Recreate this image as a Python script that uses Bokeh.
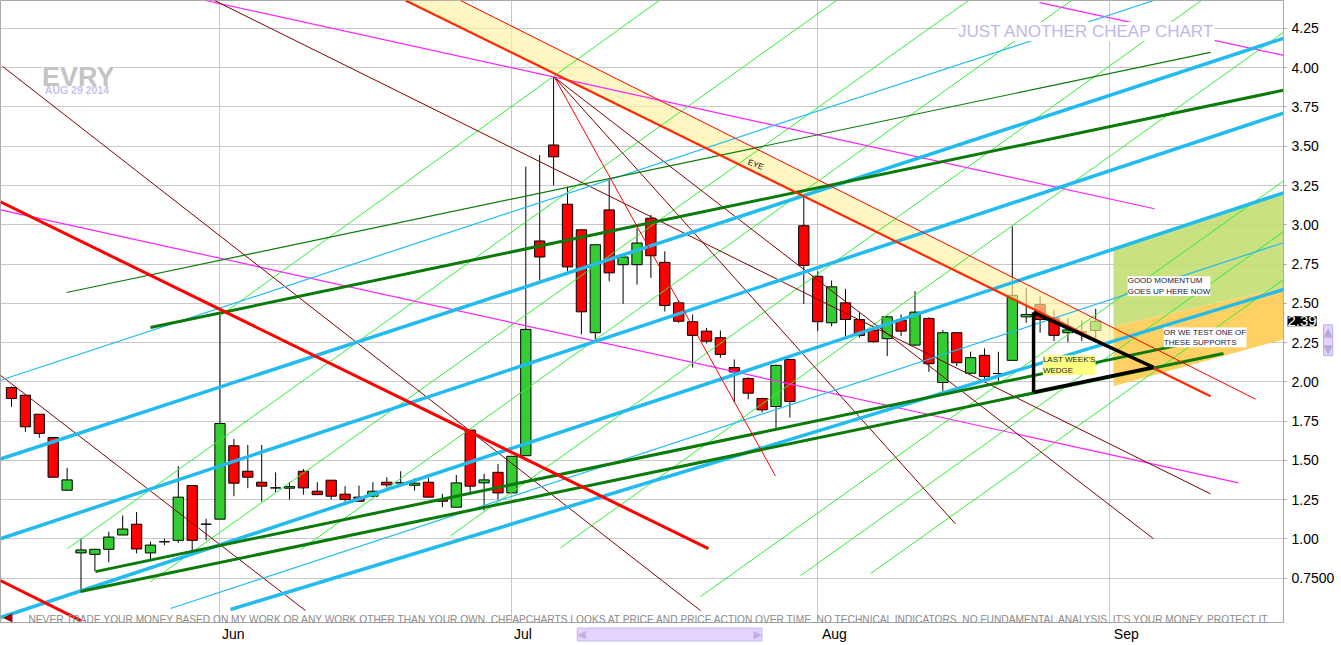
from bokeh.plotting import figure
from bokeh.models import Range1d, FixedTicker, Label, ColumnDataSource, NumeralTickFormatter
from bokeh.embed import file_html
from bokeh.resources import INLINE

# ---------------- data: EVRY daily candles (trading-day index 0 = 9 May 2014 ... 78 = 29 Aug 2014)
opens = [1.964,1.915,1.794,1.646,1.310,0.911,0.902,0.934,1.025,1.094,
         0.911,0.982,0.991,1.340,1.094,1.126,1.593,1.431,1.361,1.325,
         1.323,1.431,1.304,1.374,1.285,1.266,1.272,1.361,1.357,1.342,
         1.361,1.251,1.202,1.693,1.357,1.424,1.293,1.530,2.897,3.508,
         3.131,2.968,2.313,3.095,2.746,2.746,3.042,2.761,2.503,2.383,
         2.323,2.281,2.091,2.021,1.894,1.843,2.143,2.994,2.672,2.376,
         2.503,2.397,2.329,2.275,2.393,2.234,2.404,1.996,2.313,2.055,
         2.169,2.053,2.137,2.414,2.492,2.408,2.313,2.317,2.327]
highs = [1.970,1.915,1.794,1.646,1.452,1.001,0.934,1.046,1.149,1.171,
         0.982,1.001,1.463,1.340,1.128,2.429,1.636,1.598,1.598,1.424,
         1.361,1.445,1.361,1.374,1.336,1.339,1.361,1.393,1.431,1.386,
         1.388,1.287,1.407,1.693,1.414,1.477,1.526,3.370,3.444,3.939,
         3.243,2.968,2.873,3.286,2.795,2.979,3.063,2.831,2.520,2.429,
         2.344,2.327,2.143,2.030,1.900,2.110,2.143,3.190,2.704,2.645,
         2.592,2.440,2.340,2.420,2.429,2.577,2.410,2.330,2.313,2.192,
         2.213,2.192,2.989,2.598,2.545,2.460,2.408,2.390,2.465]
lows = [1.841,1.682,1.644,1.393,1.310,0.673,0.794,0.851,1.025,0.908,
        0.864,0.960,0.974,0.917,0.991,1.126,1.272,1.323,1.238,1.297,
        1.251,1.282,1.282,1.251,1.238,1.240,1.266,1.329,1.346,1.308,
        1.266,1.202,1.202,1.298,1.181,1.251,1.293,1.530,2.645,3.250,
        2.704,2.302,2.270,2.640,2.497,2.619,2.662,2.448,2.376,2.091,
        2.245,2.154,1.869,1.889,1.805,1.699,1.773,2.497,2.323,2.355,
        2.291,2.280,2.250,2.164,2.291,2.228,2.063,1.942,2.100,2.050,
        2.006,2.006,2.137,2.376,2.313,2.260,2.253,2.260,2.266]
closes = [1.894,1.714,1.672,1.393,1.376,0.930,0.934,1.012,1.063,0.936,
          0.961,0.982,1.266,0.991,1.094,1.735,1.355,1.393,1.336,1.325,
          1.333,1.325,1.282,1.272,1.251,1.240,1.304,1.344,1.357,1.355,
          1.266,1.240,1.357,1.336,1.376,1.293,1.526,2.334,2.795,3.433,
          2.732,2.446,2.873,2.694,2.795,2.884,2.803,2.486,2.386,2.296,
          2.259,2.175,2.063,1.928,1.822,2.105,1.875,2.742,2.383,2.605,
          2.397,2.296,2.256,2.414,2.323,2.444,2.116,2.313,2.122,2.154,
          2.034,2.053,2.551,2.429,2.397,2.296,2.331,2.317,2.386]

price_ticks = [0.75, 1.00, 1.25, 1.50, 1.75, 2.00, 2.25, 2.50, 2.75, 3.00, 3.25, 3.50, 3.75, 4.00, 4.25]
month_labels = ["Jun", "Jul", "Aug", "Sep"]
month_start_idx = [15, 36, 58, 79]          # first trading day of each month (grid lines)
month_label_pos = [15.95, 36.8, 59.2, 80.2]  # label centres (labels start at the month line)

# ---------------- hand-drawn trend lines (trading-day index, price)
thick_red = dict(x0=[-0.79, -0.80], y0=[3.146, 0.735], x1=[50.14, 5.00], y1=[0.938, 0.480])
band_lower = dict(x0=[28.35], y0=[4.428], x1=[86.26], y1=[1.909])
thin_red = dict(x0=[39.06, 32.30], y0=[3.939, 4.428], x1=[54.96, 89.50], y1=[1.401, 1.890])
magenta = dict(x0=[13.96, 73.96, -0.79], y0=[4.428, 4.415, 3.095],
               x1=[82.23, 91.51, 88.27], y1=[3.102, 4.079, 1.357])
maroon = dict(x0=[-0.65, -0.79, 14.60, 39.06, 39.06], y0=[4.009, 2.042, 4.428, 3.939, 3.939],
              x1=[49.57, 21.15, 86.26, 82.16, 67.91], y1=[0.544, 0.544, 1.287, 1.001, 1.096])
cyan_thick = dict(x0=[-0.79, -0.79, -0.79, 15.76], y0=[1.509, 1.001, 0.500, 0.551],
                  x1=[91.51, 91.51, 91.51, 91.51], y1=[4.187, 3.711, 3.203, 2.588])
cyan_thin = dict(x0=[-0.79, 11.44], y0=[2.010, 0.557], x1=[82.16, 91.51], y1=[4.428, 2.886])
dkgreen_thick = dict(x0=[10.00, 4.96, 6.04], y0=[2.346, 0.665, 0.792],
                     x1=[91.51, 87.19, 84.60], y1=[3.857, 2.181, 2.245])
dkgreen_thin = dict(x0=[3.96], y0=[2.569], x1=[86.26], y1=[4.098])
lime = dict(x0=[15.04, 4.03, 10.00, 20.79, 31.58, 39.50, 49.57, 56.76, 61.80],
            y0=[2.423, 0.938, 0.728, 0.931, 1.020, 0.944, 0.633, 0.766, 0.779],
            x1=[46.60, 59.35, 68.85, 76.26, 85.60, 91.51, 91.51, 91.51, 91.51],
            y1=[4.428, 4.428, 4.428, 4.428, 4.428, 4.225, 3.279, 2.956, 2.651])
wedge = dict(x0=[73.53, 73.53, 73.53], y0=[2.442, 2.442, 1.934],
             x1=[73.53, 82.16, 82.16], y1=[1.934, 2.093, 2.093])
eye_band_x = [28.35, 79.28, 79.28, 32.30]
eye_band_y = [4.428, 2.213, 2.344, 4.428]
momentum_zone_x = [79.28, 91.51, 91.51, 79.28]
momentum_zone_y = [2.841, 3.203, 2.600, 2.353]
support_zone_x = [79.28, 91.51, 91.51, 79.28]
support_zone_y = [2.353, 2.600, 2.270, 1.972]

# ---------------- figure
X0, X1 = -0.791, 91.51
Y0, Y1 = 0.468, 4.428
p = figure(frame_width=1283, frame_height=622, x_range=Range1d(X0, X1), y_range=Range1d(Y0, Y1),
           output_backend="svg", toolbar_location=None, y_axis_location="right",
           min_border_left=0, min_border_top=0, min_border_right=0, min_border_bottom=0,
           background_fill_color="white", border_fill_color="white")
p.outline_line_color = "#A8A8A8"

p.yaxis.ticker = FixedTicker(ticks=price_ticks)
p.yaxis.formatter = NumeralTickFormatter(format="0.00")
p.yaxis.major_label_overrides = {0.75: "0.7500"}
p.yaxis.major_label_text_font = "Liberation Sans"
p.yaxis.major_label_text_font_size = "14px"
p.yaxis.major_label_text_color = "black"
p.yaxis.axis_line_color = "#A8A8A8"
p.yaxis.major_tick_line_color = "#A8A8A8"
p.yaxis.major_tick_out = 3
p.yaxis.major_tick_in = 0
p.yaxis.minor_tick_line_color = None
p.yaxis.major_label_standoff = 5

p.xaxis.ticker = FixedTicker(ticks=month_label_pos)
p.xaxis.major_label_overrides = {k: v for k, v in zip(month_label_pos, month_labels)}
p.xaxis.major_label_text_font = "Liberation Sans"
p.xaxis.major_label_text_font_size = "14px"
p.xaxis.major_label_text_color = "black"
p.xaxis.axis_line_color = "#A8A8A8"
p.xaxis.major_tick_line_color = None
p.xaxis.minor_tick_line_color = None
p.xaxis.major_tick_out = 0
p.xaxis.major_label_standoff = 3

p.ygrid.ticker = FixedTicker(ticks=price_ticks)
p.xgrid.ticker = FixedTicker(ticks=month_start_idx)
p.grid.grid_line_color = "#C8C8C8"
p.grid.grid_line_width = 1

# ---------------- candles
idx = list(range(len(opens)))
cols = ["#33CC33" if c > o else ("#FF0000" if c < o else "black") for o, c in zip(opens, closes)]
src = ColumnDataSource(dict(x=idx, o=opens, h=highs, l=lows, c=closes,
                            top=[max(o, c) for o, c in zip(opens, closes)],
                            bot=[min(o, c) for o, c in zip(opens, closes)], col=cols))
p.segment(x0="x", y0="l", x1="x", y1="h", source=src, line_color="black", line_width=1)
p.vbar(x="x", width=0.74, top="top", bottom="bot", source=src, fill_color="col",
       line_color="black", line_width=1)

# ---------------- zones
p.patch(momentum_zone_x, momentum_zone_y, fill_color="#C4DE74", fill_alpha=0.9, line_color=None)
p.patch(support_zone_x, support_zone_y, fill_color="#FFCB52", fill_alpha=0.9, line_color=None)
p.patch(eye_band_x, eye_band_y, fill_color="#FFF3A0", fill_alpha=0.65, line_color=None)

# ---------------- lines
def segs(d, color, width):
    p.segment(x0=d["x0"], y0=d["y0"], x1=d["x1"], y1=d["y1"], line_color=color, line_width=width)

segs(lime, "#33EE33", 1)
segs(magenta, "#FF22FF", 1.2)
segs(maroon, "#800000", 1)
segs(cyan_thin, "#22BBEE", 1.2)
segs(dkgreen_thin, "#0A7A0A", 1.2)
segs(cyan_thick, "#22BBEE", 3.5)
segs(dkgreen_thick, "#0A7A0A", 3)
segs(thin_red, "#FF0000", 1)
segs(band_lower, "#FF2A00", 2.2)
segs(thick_red, "#FF0000", 3)
segs(wedge, "black", 3.5)

# ---------------- texts
F = "Liberation Sans"
p.add_layout(Label(x=2.2, y=3.939, text="EVRY", text_font=F, text_font_size="27px",
                   text_font_style="bold", text_color="#C4C4C4", background_fill_color="white",
                   text_baseline="alphabetic"))
p.add_layout(Label(x=2.4, y=3.857, text="AUG 29 2014", text_font=F, text_font_size="10.5px",
                   text_font_style="bold", text_color="#CBBFF2", text_baseline="alphabetic"))
p.add_layout(Label(x=68.1, y=4.231, text="JUST ANOTHER CHEAP CHART", text_font=F,
                   text_font_size="17px", text_color="#BFB7EA", background_fill_color="white",
                   text_baseline="middle"))
p.add_layout(Label(x=53.0, y=3.40, text="EYE", text_font=F, text_font_size="8px",
                   text_color="black", angle=-0.35, text_baseline="middle"))
p.add_layout(Label(x=80.3, y=2.672, text="GOOD MOMENTUM\nGOES UP HERE NOW", text_font=F,
                   text_font_size="8px", text_color="#202040", background_fill_color="white",
                   text_baseline="top"))
p.add_layout(Label(x=82.9, y=2.346, text="OR WE TEST ONE OF\nTHESE SUPPORTS", text_font=F,
                   text_font_size="8px", text_color="#202040", background_fill_color="white",
                   text_baseline="top"))
p.add_layout(Label(x=74.2, y=2.169, text="LAST WEEK'S\nWEDGE", text_font=F,
                   text_font_size="8px", text_color="#202040", background_fill_color="#FFFF80",
                   text_baseline="top"))
p.add_layout(Label(x=1.22, y=0.487, text="NEVER TRADE YOUR MONEY BASED ON MY WORK OR ANY WORK OTHER THAN YOUR OWN. "
                   "CHEAPCHARTS LOOKS AT PRICE AND PRICE ACTION OVER TIME. NO TECHNICAL INDICATORS. "
                   "NO FUNDAMENTAL ANALYSIS. IT'S YOUR MONEY. PROTECT IT.",
                   text_font=F, text_font_size="10.2px", text_color="#8A8A8A",
                   text_baseline="middle"))
p.add_layout(Label(x=-0.6, y=0.505, text="\u25C0", text_font="DejaVu Sans", text_font_size="12px",
                   text_color="#A00000", text_baseline="middle"))

# last-price tag, scroll bar and scroll buttons (in the right side panel so that they are not clipped)
p.add_layout(Label(x=X1, y=closes[-1], x_offset=4, text=f"{closes[-1]:.2f}", text_font=F,
                   text_font_size="15px", text_color="white", background_fill_color="black",
                   text_baseline="middle"), "right")
p.add_layout(Label(x=X1, y=2.265, x_offset=40, text="\u25B2\n\u25BC", text_font="DejaVu Sans",
                   text_font_size="12px", text_color="#B8A8E0", background_fill_color="#E2D4FF",
                   border_line_color="#C0B0E8", text_baseline="middle"), "right")
p.add_layout(Label(x=40.7, y=Y0, y_offset=-12, text="\u25C0" + "\u00A0" * 48 + "\u25B6",
                   text_font="DejaVu Sans", text_font_size="11px", text_color="#C0B0E8",
                   background_fill_color="#E2D4FF", border_line_color="#C8B8F0",
                   text_baseline="middle"), "right")

open("out.html", "w").write(file_html(p, INLINE))
